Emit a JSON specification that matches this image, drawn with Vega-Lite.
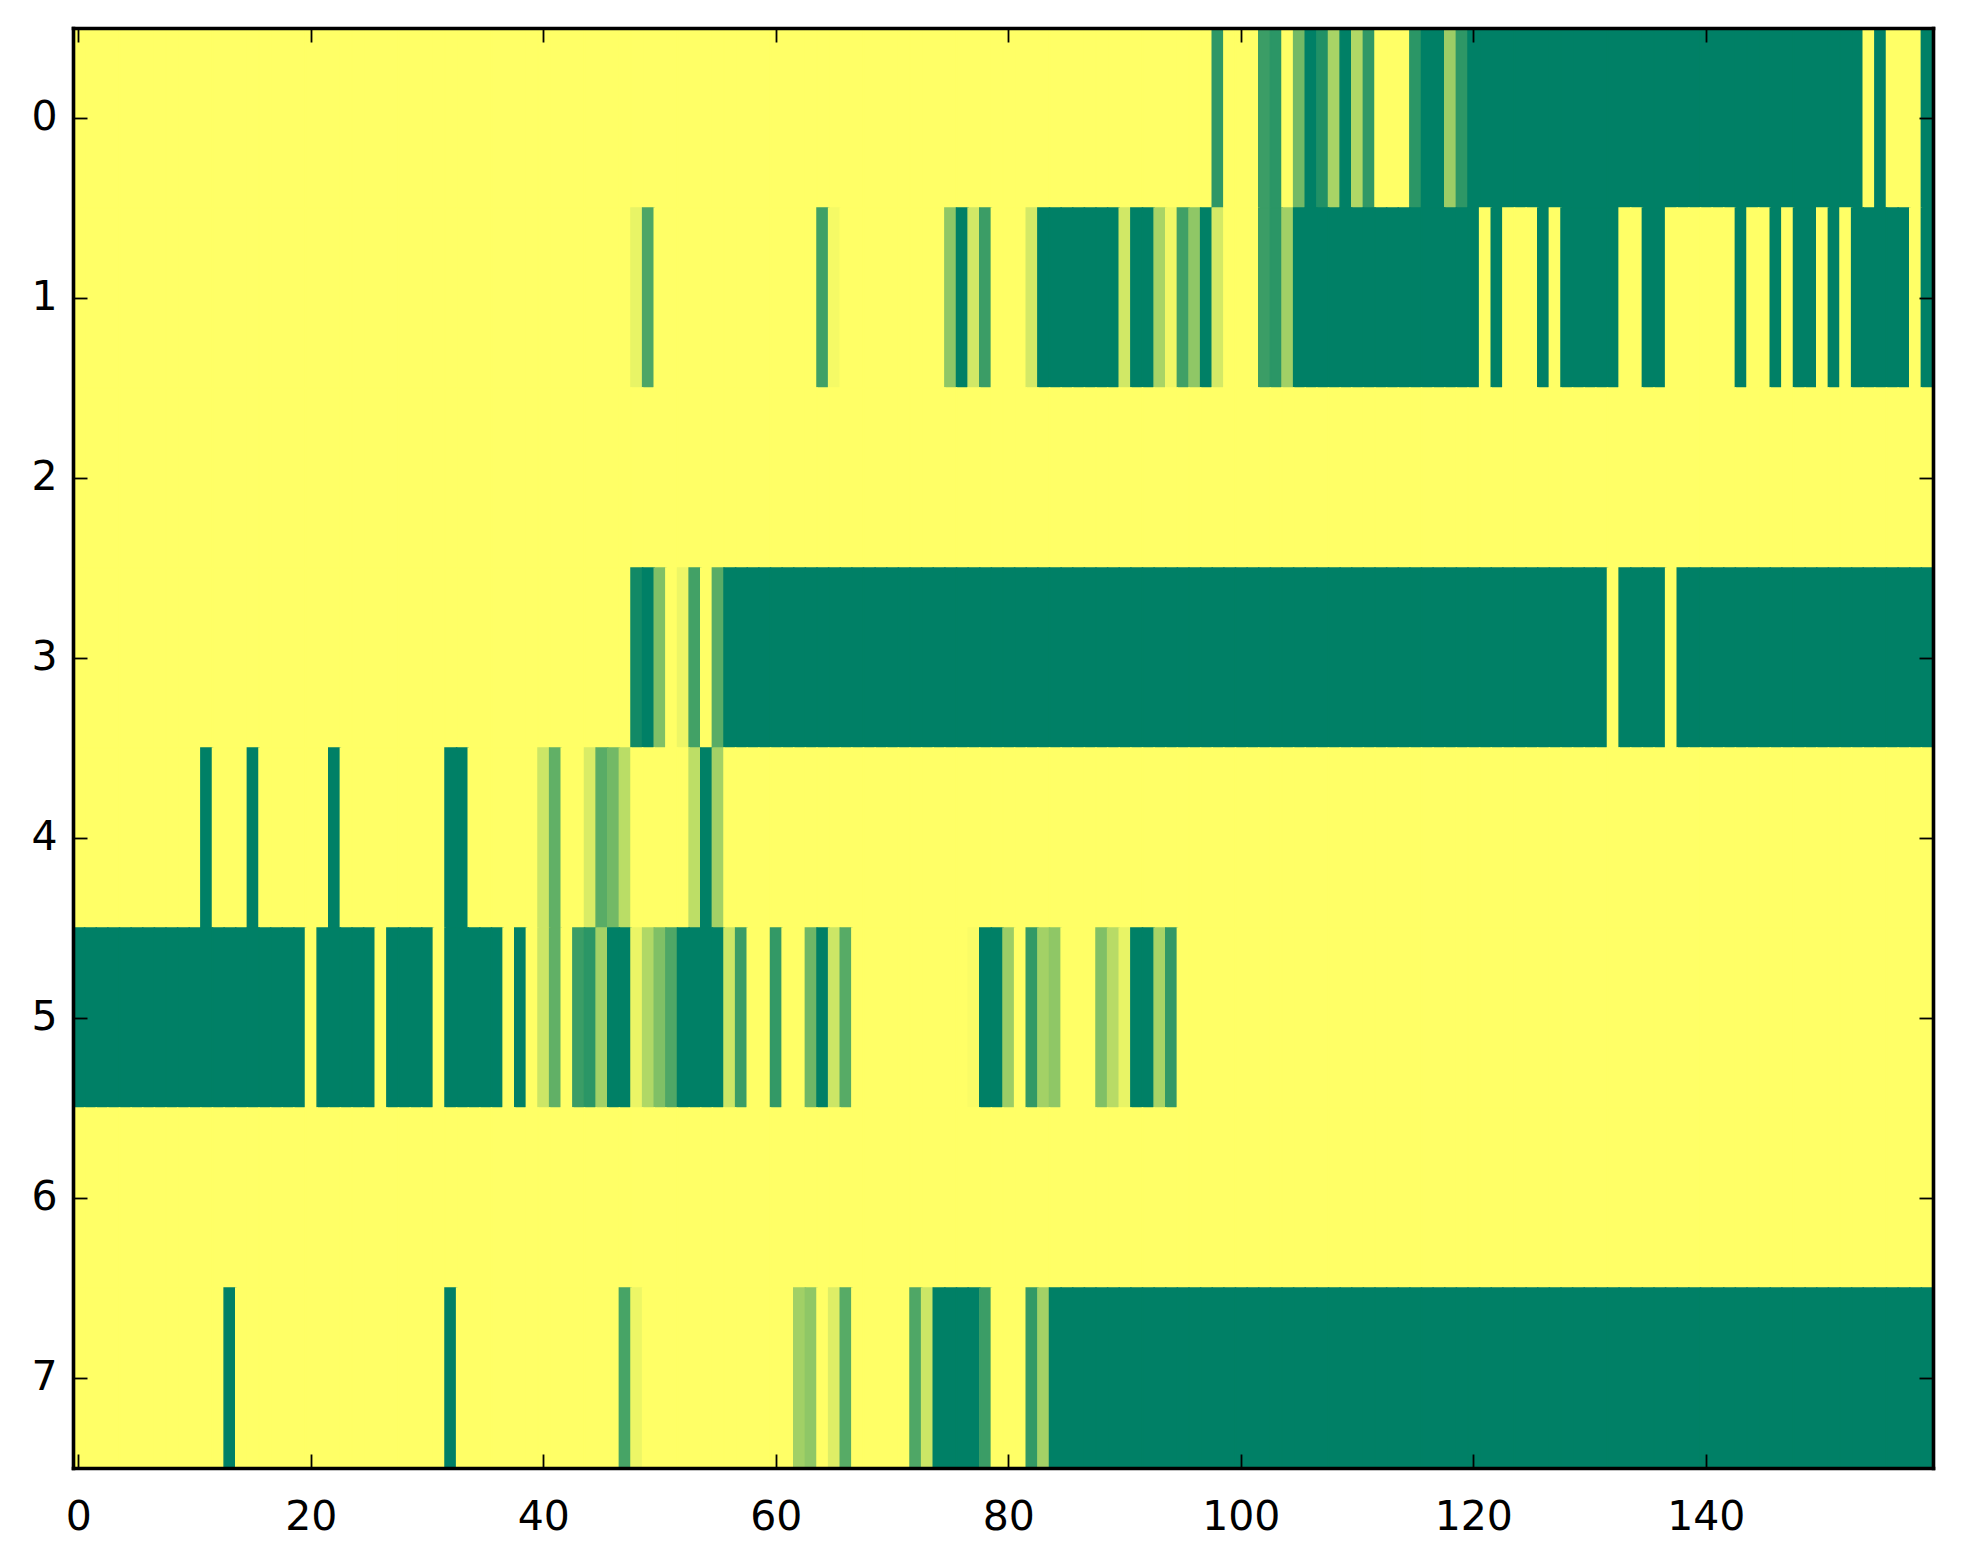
{
  "$schema": "https://vega.github.io/schema/vega-lite/v6.json",
  "width": 1860,
  "height": 1440,
  "autosize": {"type": "none"},
  "padding": {"left": 73, "top": 28, "right": 30, "bottom": 96},
  "background": "white",
  "data": {
    "values": [
{"r":0,"c":0,"v":0},{"r":0,"c":1,"v":0},{"r":0,"c":2,"v":0},{"r":0,"c":3,"v":0},{"r":0,"c":4,"v":0},{"r":0,"c":5,"v":0},{"r":0,"c":6,"v":0},{"r":0,"c":7,"v":0},{"r":0,"c":8,"v":0},{"r":0,"c":9,"v":0},
{"r":0,"c":10,"v":0},{"r":0,"c":11,"v":0},{"r":0,"c":12,"v":0},{"r":0,"c":13,"v":0},{"r":0,"c":14,"v":0},{"r":0,"c":15,"v":0},{"r":0,"c":16,"v":0},{"r":0,"c":17,"v":0},{"r":0,"c":18,"v":0},{"r":0,"c":19,"v":0},
{"r":0,"c":20,"v":0},{"r":0,"c":21,"v":0},{"r":0,"c":22,"v":0},{"r":0,"c":23,"v":0},{"r":0,"c":24,"v":0},{"r":0,"c":25,"v":0},{"r":0,"c":26,"v":0},{"r":0,"c":27,"v":0},{"r":0,"c":28,"v":0},{"r":0,"c":29,"v":0},
{"r":0,"c":30,"v":0},{"r":0,"c":31,"v":0},{"r":0,"c":32,"v":0},{"r":0,"c":33,"v":0},{"r":0,"c":34,"v":0},{"r":0,"c":35,"v":0},{"r":0,"c":36,"v":0},{"r":0,"c":37,"v":0},{"r":0,"c":38,"v":0},{"r":0,"c":39,"v":0},
{"r":0,"c":40,"v":0},{"r":0,"c":41,"v":0},{"r":0,"c":42,"v":0},{"r":0,"c":43,"v":0},{"r":0,"c":44,"v":0},{"r":0,"c":45,"v":0},{"r":0,"c":46,"v":0},{"r":0,"c":47,"v":0},{"r":0,"c":48,"v":0},{"r":0,"c":49,"v":0},
{"r":0,"c":50,"v":0},{"r":0,"c":51,"v":0},{"r":0,"c":52,"v":0},{"r":0,"c":53,"v":0},{"r":0,"c":54,"v":0},{"r":0,"c":55,"v":0},{"r":0,"c":56,"v":0},{"r":0,"c":57,"v":0},{"r":0,"c":58,"v":0},{"r":0,"c":59,"v":0},
{"r":0,"c":60,"v":0},{"r":0,"c":61,"v":0},{"r":0,"c":62,"v":0},{"r":0,"c":63,"v":0},{"r":0,"c":64,"v":0},{"r":0,"c":65,"v":0},{"r":0,"c":66,"v":0},{"r":0,"c":67,"v":0},{"r":0,"c":68,"v":0},{"r":0,"c":69,"v":0},
{"r":0,"c":70,"v":0},{"r":0,"c":71,"v":0},{"r":0,"c":72,"v":0},{"r":0,"c":73,"v":0},{"r":0,"c":74,"v":0},{"r":0,"c":75,"v":0},{"r":0,"c":76,"v":0},{"r":0,"c":77,"v":0},{"r":0,"c":78,"v":0},{"r":0,"c":79,"v":0},
{"r":0,"c":80,"v":0},{"r":0,"c":81,"v":0},{"r":0,"c":82,"v":0},{"r":0,"c":83,"v":0},{"r":0,"c":84,"v":0},{"r":0,"c":85,"v":0},{"r":0,"c":86,"v":0},{"r":0,"c":87,"v":0},{"r":0,"c":88,"v":0},{"r":0,"c":89,"v":0},
{"r":0,"c":90,"v":0},{"r":0,"c":91,"v":0},{"r":0,"c":92,"v":0},{"r":0,"c":93,"v":0},{"r":0,"c":94,"v":0},{"r":0,"c":95,"v":0},{"r":0,"c":96,"v":0},{"r":0,"c":97,"v":0},{"r":0,"c":98,"v":0.82},{"r":0,"c":99,"v":0},
{"r":0,"c":100,"v":0},{"r":0,"c":101,"v":0},{"r":0,"c":102,"v":0.77},{"r":0,"c":103,"v":0.83},{"r":0,"c":104,"v":0},{"r":0,"c":105,"v":0.55},{"r":0,"c":106,"v":1},{"r":0,"c":107,"v":0.87},{"r":0,"c":108,"v":0.34},{"r":0,"c":109,"v":1},
{"r":0,"c":110,"v":0.31},{"r":0,"c":111,"v":0.81},{"r":0,"c":112,"v":0},{"r":0,"c":113,"v":0},{"r":0,"c":114,"v":0},{"r":0,"c":115,"v":0.83},{"r":0,"c":116,"v":1},{"r":0,"c":117,"v":1},{"r":0,"c":118,"v":0.39},{"r":0,"c":119,"v":0.82},
{"r":0,"c":120,"v":1},{"r":0,"c":121,"v":1},{"r":0,"c":122,"v":1},{"r":0,"c":123,"v":1},{"r":0,"c":124,"v":1},{"r":0,"c":125,"v":1},{"r":0,"c":126,"v":1},{"r":0,"c":127,"v":1},{"r":0,"c":128,"v":1},{"r":0,"c":129,"v":1},
{"r":0,"c":130,"v":1},{"r":0,"c":131,"v":1},{"r":0,"c":132,"v":1},{"r":0,"c":133,"v":1},{"r":0,"c":134,"v":1},{"r":0,"c":135,"v":1},{"r":0,"c":136,"v":1},{"r":0,"c":137,"v":1},{"r":0,"c":138,"v":1},{"r":0,"c":139,"v":1},
{"r":0,"c":140,"v":1},{"r":0,"c":141,"v":1},{"r":0,"c":142,"v":1},{"r":0,"c":143,"v":1},{"r":0,"c":144,"v":1},{"r":0,"c":145,"v":1},{"r":0,"c":146,"v":1},{"r":0,"c":147,"v":1},{"r":0,"c":148,"v":1},{"r":0,"c":149,"v":1},
{"r":0,"c":150,"v":1},{"r":0,"c":151,"v":1},{"r":0,"c":152,"v":1},{"r":0,"c":153,"v":1},{"r":0,"c":154,"v":0},{"r":0,"c":155,"v":1},{"r":0,"c":156,"v":0},{"r":0,"c":157,"v":0},{"r":0,"c":158,"v":0},{"r":0,"c":159,"v":1},
{"r":1,"c":0,"v":0},{"r":1,"c":1,"v":0},{"r":1,"c":2,"v":0},{"r":1,"c":3,"v":0},{"r":1,"c":4,"v":0},{"r":1,"c":5,"v":0},{"r":1,"c":6,"v":0},{"r":1,"c":7,"v":0},{"r":1,"c":8,"v":0},{"r":1,"c":9,"v":0},
{"r":1,"c":10,"v":0},{"r":1,"c":11,"v":0},{"r":1,"c":12,"v":0},{"r":1,"c":13,"v":0},{"r":1,"c":14,"v":0},{"r":1,"c":15,"v":0},{"r":1,"c":16,"v":0},{"r":1,"c":17,"v":0},{"r":1,"c":18,"v":0},{"r":1,"c":19,"v":0},
{"r":1,"c":20,"v":0},{"r":1,"c":21,"v":0},{"r":1,"c":22,"v":0},{"r":1,"c":23,"v":0},{"r":1,"c":24,"v":0},{"r":1,"c":25,"v":0},{"r":1,"c":26,"v":0},{"r":1,"c":27,"v":0},{"r":1,"c":28,"v":0},{"r":1,"c":29,"v":0},
{"r":1,"c":30,"v":0},{"r":1,"c":31,"v":0},{"r":1,"c":32,"v":0},{"r":1,"c":33,"v":0},{"r":1,"c":34,"v":0},{"r":1,"c":35,"v":0},{"r":1,"c":36,"v":0},{"r":1,"c":37,"v":0},{"r":1,"c":38,"v":0},{"r":1,"c":39,"v":0},
{"r":1,"c":40,"v":0},{"r":1,"c":41,"v":0},{"r":1,"c":42,"v":0},{"r":1,"c":43,"v":0},{"r":1,"c":44,"v":0},{"r":1,"c":45,"v":0},{"r":1,"c":46,"v":0},{"r":1,"c":47,"v":0},{"r":1,"c":48,"v":0.09},{"r":1,"c":49,"v":0.7},
{"r":1,"c":50,"v":0},{"r":1,"c":51,"v":0},{"r":1,"c":52,"v":0},{"r":1,"c":53,"v":0},{"r":1,"c":54,"v":0},{"r":1,"c":55,"v":0},{"r":1,"c":56,"v":0},{"r":1,"c":57,"v":0},{"r":1,"c":58,"v":0},{"r":1,"c":59,"v":0},
{"r":1,"c":60,"v":0},{"r":1,"c":61,"v":0},{"r":1,"c":62,"v":0},{"r":1,"c":63,"v":0},{"r":1,"c":64,"v":0.75},{"r":1,"c":65,"v":0.04},{"r":1,"c":66,"v":0},{"r":1,"c":67,"v":0},{"r":1,"c":68,"v":0},{"r":1,"c":69,"v":0},
{"r":1,"c":70,"v":0},{"r":1,"c":71,"v":0},{"r":1,"c":72,"v":0},{"r":1,"c":73,"v":0},{"r":1,"c":74,"v":0},{"r":1,"c":75,"v":0.44},{"r":1,"c":76,"v":1},{"r":1,"c":77,"v":0.18},{"r":1,"c":78,"v":0.77},{"r":1,"c":79,"v":0},
{"r":1,"c":80,"v":0},{"r":1,"c":81,"v":0},{"r":1,"c":82,"v":0.17},{"r":1,"c":83,"v":1},{"r":1,"c":84,"v":1},{"r":1,"c":85,"v":1},{"r":1,"c":86,"v":1},{"r":1,"c":87,"v":1},{"r":1,"c":88,"v":1},{"r":1,"c":89,"v":1},
{"r":1,"c":90,"v":0.18},{"r":1,"c":91,"v":1},{"r":1,"c":92,"v":1},{"r":1,"c":93,"v":0.34},{"r":1,"c":94,"v":0.06},{"r":1,"c":95,"v":0.75},{"r":1,"c":96,"v":0.44},{"r":1,"c":97,"v":1},{"r":1,"c":98,"v":0.17},{"r":1,"c":99,"v":0},
{"r":1,"c":100,"v":0},{"r":1,"c":101,"v":0},{"r":1,"c":102,"v":0.77},{"r":1,"c":103,"v":0.83},{"r":1,"c":104,"v":0.37},{"r":1,"c":105,"v":1},{"r":1,"c":106,"v":1},{"r":1,"c":107,"v":1},{"r":1,"c":108,"v":1},{"r":1,"c":109,"v":1},
{"r":1,"c":110,"v":1},{"r":1,"c":111,"v":1},{"r":1,"c":112,"v":1},{"r":1,"c":113,"v":1},{"r":1,"c":114,"v":1},{"r":1,"c":115,"v":1},{"r":1,"c":116,"v":1},{"r":1,"c":117,"v":1},{"r":1,"c":118,"v":1},{"r":1,"c":119,"v":1},
{"r":1,"c":120,"v":1},{"r":1,"c":121,"v":0},{"r":1,"c":122,"v":1},{"r":1,"c":123,"v":0},{"r":1,"c":124,"v":0},{"r":1,"c":125,"v":0},{"r":1,"c":126,"v":1},{"r":1,"c":127,"v":0},{"r":1,"c":128,"v":1},{"r":1,"c":129,"v":1},
{"r":1,"c":130,"v":1},{"r":1,"c":131,"v":1},{"r":1,"c":132,"v":1},{"r":1,"c":133,"v":0},{"r":1,"c":134,"v":0},{"r":1,"c":135,"v":1},{"r":1,"c":136,"v":1},{"r":1,"c":137,"v":0},{"r":1,"c":138,"v":0},{"r":1,"c":139,"v":0},
{"r":1,"c":140,"v":0},{"r":1,"c":141,"v":0},{"r":1,"c":142,"v":0},{"r":1,"c":143,"v":1},{"r":1,"c":144,"v":0},{"r":1,"c":145,"v":0},{"r":1,"c":146,"v":1},{"r":1,"c":147,"v":0},{"r":1,"c":148,"v":1},{"r":1,"c":149,"v":1},
{"r":1,"c":150,"v":0},{"r":1,"c":151,"v":1},{"r":1,"c":152,"v":0},{"r":1,"c":153,"v":1},{"r":1,"c":154,"v":1},{"r":1,"c":155,"v":1},{"r":1,"c":156,"v":1},{"r":1,"c":157,"v":1},{"r":1,"c":158,"v":0},{"r":1,"c":159,"v":1},
{"r":2,"c":0,"v":0},{"r":2,"c":1,"v":0},{"r":2,"c":2,"v":0},{"r":2,"c":3,"v":0},{"r":2,"c":4,"v":0},{"r":2,"c":5,"v":0},{"r":2,"c":6,"v":0},{"r":2,"c":7,"v":0},{"r":2,"c":8,"v":0},{"r":2,"c":9,"v":0},
{"r":2,"c":10,"v":0},{"r":2,"c":11,"v":0},{"r":2,"c":12,"v":0},{"r":2,"c":13,"v":0},{"r":2,"c":14,"v":0},{"r":2,"c":15,"v":0},{"r":2,"c":16,"v":0},{"r":2,"c":17,"v":0},{"r":2,"c":18,"v":0},{"r":2,"c":19,"v":0},
{"r":2,"c":20,"v":0},{"r":2,"c":21,"v":0},{"r":2,"c":22,"v":0},{"r":2,"c":23,"v":0},{"r":2,"c":24,"v":0},{"r":2,"c":25,"v":0},{"r":2,"c":26,"v":0},{"r":2,"c":27,"v":0},{"r":2,"c":28,"v":0},{"r":2,"c":29,"v":0},
{"r":2,"c":30,"v":0},{"r":2,"c":31,"v":0},{"r":2,"c":32,"v":0},{"r":2,"c":33,"v":0},{"r":2,"c":34,"v":0},{"r":2,"c":35,"v":0},{"r":2,"c":36,"v":0},{"r":2,"c":37,"v":0},{"r":2,"c":38,"v":0},{"r":2,"c":39,"v":0},
{"r":2,"c":40,"v":0},{"r":2,"c":41,"v":0},{"r":2,"c":42,"v":0},{"r":2,"c":43,"v":0},{"r":2,"c":44,"v":0},{"r":2,"c":45,"v":0},{"r":2,"c":46,"v":0},{"r":2,"c":47,"v":0},{"r":2,"c":48,"v":0},{"r":2,"c":49,"v":0},
{"r":2,"c":50,"v":0},{"r":2,"c":51,"v":0},{"r":2,"c":52,"v":0},{"r":2,"c":53,"v":0},{"r":2,"c":54,"v":0},{"r":2,"c":55,"v":0},{"r":2,"c":56,"v":0},{"r":2,"c":57,"v":0},{"r":2,"c":58,"v":0},{"r":2,"c":59,"v":0},
{"r":2,"c":60,"v":0},{"r":2,"c":61,"v":0},{"r":2,"c":62,"v":0},{"r":2,"c":63,"v":0},{"r":2,"c":64,"v":0},{"r":2,"c":65,"v":0},{"r":2,"c":66,"v":0},{"r":2,"c":67,"v":0},{"r":2,"c":68,"v":0},{"r":2,"c":69,"v":0},
{"r":2,"c":70,"v":0},{"r":2,"c":71,"v":0},{"r":2,"c":72,"v":0},{"r":2,"c":73,"v":0},{"r":2,"c":74,"v":0},{"r":2,"c":75,"v":0},{"r":2,"c":76,"v":0},{"r":2,"c":77,"v":0},{"r":2,"c":78,"v":0},{"r":2,"c":79,"v":0},
{"r":2,"c":80,"v":0},{"r":2,"c":81,"v":0},{"r":2,"c":82,"v":0},{"r":2,"c":83,"v":0},{"r":2,"c":84,"v":0},{"r":2,"c":85,"v":0},{"r":2,"c":86,"v":0},{"r":2,"c":87,"v":0},{"r":2,"c":88,"v":0},{"r":2,"c":89,"v":0},
{"r":2,"c":90,"v":0},{"r":2,"c":91,"v":0},{"r":2,"c":92,"v":0},{"r":2,"c":93,"v":0},{"r":2,"c":94,"v":0},{"r":2,"c":95,"v":0},{"r":2,"c":96,"v":0},{"r":2,"c":97,"v":0},{"r":2,"c":98,"v":0},{"r":2,"c":99,"v":0},
{"r":2,"c":100,"v":0},{"r":2,"c":101,"v":0},{"r":2,"c":102,"v":0},{"r":2,"c":103,"v":0},{"r":2,"c":104,"v":0},{"r":2,"c":105,"v":0},{"r":2,"c":106,"v":0},{"r":2,"c":107,"v":0},{"r":2,"c":108,"v":0},{"r":2,"c":109,"v":0},
{"r":2,"c":110,"v":0},{"r":2,"c":111,"v":0},{"r":2,"c":112,"v":0},{"r":2,"c":113,"v":0},{"r":2,"c":114,"v":0},{"r":2,"c":115,"v":0},{"r":2,"c":116,"v":0},{"r":2,"c":117,"v":0},{"r":2,"c":118,"v":0},{"r":2,"c":119,"v":0},
{"r":2,"c":120,"v":0},{"r":2,"c":121,"v":0},{"r":2,"c":122,"v":0},{"r":2,"c":123,"v":0},{"r":2,"c":124,"v":0},{"r":2,"c":125,"v":0},{"r":2,"c":126,"v":0},{"r":2,"c":127,"v":0},{"r":2,"c":128,"v":0},{"r":2,"c":129,"v":0},
{"r":2,"c":130,"v":0},{"r":2,"c":131,"v":0},{"r":2,"c":132,"v":0},{"r":2,"c":133,"v":0},{"r":2,"c":134,"v":0},{"r":2,"c":135,"v":0},{"r":2,"c":136,"v":0},{"r":2,"c":137,"v":0},{"r":2,"c":138,"v":0},{"r":2,"c":139,"v":0},
{"r":2,"c":140,"v":0},{"r":2,"c":141,"v":0},{"r":2,"c":142,"v":0},{"r":2,"c":143,"v":0},{"r":2,"c":144,"v":0},{"r":2,"c":145,"v":0},{"r":2,"c":146,"v":0},{"r":2,"c":147,"v":0},{"r":2,"c":148,"v":0},{"r":2,"c":149,"v":0},
{"r":2,"c":150,"v":0},{"r":2,"c":151,"v":0},{"r":2,"c":152,"v":0},{"r":2,"c":153,"v":0},{"r":2,"c":154,"v":0},{"r":2,"c":155,"v":0},{"r":2,"c":156,"v":0},{"r":2,"c":157,"v":0},{"r":2,"c":158,"v":0},{"r":2,"c":159,"v":0},
{"r":3,"c":0,"v":0},{"r":3,"c":1,"v":0},{"r":3,"c":2,"v":0},{"r":3,"c":3,"v":0},{"r":3,"c":4,"v":0},{"r":3,"c":5,"v":0},{"r":3,"c":6,"v":0},{"r":3,"c":7,"v":0},{"r":3,"c":8,"v":0},{"r":3,"c":9,"v":0},
{"r":3,"c":10,"v":0},{"r":3,"c":11,"v":0},{"r":3,"c":12,"v":0},{"r":3,"c":13,"v":0},{"r":3,"c":14,"v":0},{"r":3,"c":15,"v":0},{"r":3,"c":16,"v":0},{"r":3,"c":17,"v":0},{"r":3,"c":18,"v":0},{"r":3,"c":19,"v":0},
{"r":3,"c":20,"v":0},{"r":3,"c":21,"v":0},{"r":3,"c":22,"v":0},{"r":3,"c":23,"v":0},{"r":3,"c":24,"v":0},{"r":3,"c":25,"v":0},{"r":3,"c":26,"v":0},{"r":3,"c":27,"v":0},{"r":3,"c":28,"v":0},{"r":3,"c":29,"v":0},
{"r":3,"c":30,"v":0},{"r":3,"c":31,"v":0},{"r":3,"c":32,"v":0},{"r":3,"c":33,"v":0},{"r":3,"c":34,"v":0},{"r":3,"c":35,"v":0},{"r":3,"c":36,"v":0},{"r":3,"c":37,"v":0},{"r":3,"c":38,"v":0},{"r":3,"c":39,"v":0},
{"r":3,"c":40,"v":0},{"r":3,"c":41,"v":0},{"r":3,"c":42,"v":0},{"r":3,"c":43,"v":0},{"r":3,"c":44,"v":0},{"r":3,"c":45,"v":0},{"r":3,"c":46,"v":0},{"r":3,"c":47,"v":0},{"r":3,"c":48,"v":0.93},{"r":3,"c":49,"v":1},
{"r":3,"c":50,"v":0.5},{"r":3,"c":51,"v":0},{"r":3,"c":52,"v":0.07},{"r":3,"c":53,"v":0.74},{"r":3,"c":54,"v":0},{"r":3,"c":55,"v":0.65},{"r":3,"c":56,"v":1},{"r":3,"c":57,"v":1},{"r":3,"c":58,"v":1},{"r":3,"c":59,"v":1},
{"r":3,"c":60,"v":1},{"r":3,"c":61,"v":1},{"r":3,"c":62,"v":1},{"r":3,"c":63,"v":1},{"r":3,"c":64,"v":1},{"r":3,"c":65,"v":1},{"r":3,"c":66,"v":1},{"r":3,"c":67,"v":1},{"r":3,"c":68,"v":1},{"r":3,"c":69,"v":1},
{"r":3,"c":70,"v":1},{"r":3,"c":71,"v":1},{"r":3,"c":72,"v":1},{"r":3,"c":73,"v":1},{"r":3,"c":74,"v":1},{"r":3,"c":75,"v":1},{"r":3,"c":76,"v":1},{"r":3,"c":77,"v":1},{"r":3,"c":78,"v":1},{"r":3,"c":79,"v":1},
{"r":3,"c":80,"v":1},{"r":3,"c":81,"v":1},{"r":3,"c":82,"v":1},{"r":3,"c":83,"v":1},{"r":3,"c":84,"v":1},{"r":3,"c":85,"v":1},{"r":3,"c":86,"v":1},{"r":3,"c":87,"v":1},{"r":3,"c":88,"v":1},{"r":3,"c":89,"v":1},
{"r":3,"c":90,"v":1},{"r":3,"c":91,"v":1},{"r":3,"c":92,"v":1},{"r":3,"c":93,"v":1},{"r":3,"c":94,"v":1},{"r":3,"c":95,"v":1},{"r":3,"c":96,"v":1},{"r":3,"c":97,"v":1},{"r":3,"c":98,"v":1},{"r":3,"c":99,"v":1},
{"r":3,"c":100,"v":1},{"r":3,"c":101,"v":1},{"r":3,"c":102,"v":1},{"r":3,"c":103,"v":1},{"r":3,"c":104,"v":1},{"r":3,"c":105,"v":1},{"r":3,"c":106,"v":1},{"r":3,"c":107,"v":1},{"r":3,"c":108,"v":1},{"r":3,"c":109,"v":1},
{"r":3,"c":110,"v":1},{"r":3,"c":111,"v":1},{"r":3,"c":112,"v":1},{"r":3,"c":113,"v":1},{"r":3,"c":114,"v":1},{"r":3,"c":115,"v":1},{"r":3,"c":116,"v":1},{"r":3,"c":117,"v":1},{"r":3,"c":118,"v":1},{"r":3,"c":119,"v":1},
{"r":3,"c":120,"v":1},{"r":3,"c":121,"v":1},{"r":3,"c":122,"v":1},{"r":3,"c":123,"v":1},{"r":3,"c":124,"v":1},{"r":3,"c":125,"v":1},{"r":3,"c":126,"v":1},{"r":3,"c":127,"v":1},{"r":3,"c":128,"v":1},{"r":3,"c":129,"v":1},
{"r":3,"c":130,"v":1},{"r":3,"c":131,"v":1},{"r":3,"c":132,"v":0},{"r":3,"c":133,"v":1},{"r":3,"c":134,"v":1},{"r":3,"c":135,"v":1},{"r":3,"c":136,"v":1},{"r":3,"c":137,"v":0},{"r":3,"c":138,"v":1},{"r":3,"c":139,"v":1},
{"r":3,"c":140,"v":1},{"r":3,"c":141,"v":1},{"r":3,"c":142,"v":1},{"r":3,"c":143,"v":1},{"r":3,"c":144,"v":1},{"r":3,"c":145,"v":1},{"r":3,"c":146,"v":1},{"r":3,"c":147,"v":1},{"r":3,"c":148,"v":1},{"r":3,"c":149,"v":1},
{"r":3,"c":150,"v":1},{"r":3,"c":151,"v":1},{"r":3,"c":152,"v":1},{"r":3,"c":153,"v":1},{"r":3,"c":154,"v":1},{"r":3,"c":155,"v":1},{"r":3,"c":156,"v":1},{"r":3,"c":157,"v":1},{"r":3,"c":158,"v":1},{"r":3,"c":159,"v":1},
{"r":4,"c":0,"v":0},{"r":4,"c":1,"v":0},{"r":4,"c":2,"v":0},{"r":4,"c":3,"v":0},{"r":4,"c":4,"v":0},{"r":4,"c":5,"v":0},{"r":4,"c":6,"v":0},{"r":4,"c":7,"v":0},{"r":4,"c":8,"v":0},{"r":4,"c":9,"v":0},
{"r":4,"c":10,"v":0},{"r":4,"c":11,"v":1},{"r":4,"c":12,"v":0},{"r":4,"c":13,"v":0},{"r":4,"c":14,"v":0},{"r":4,"c":15,"v":1},{"r":4,"c":16,"v":0},{"r":4,"c":17,"v":0},{"r":4,"c":18,"v":0},{"r":4,"c":19,"v":0},
{"r":4,"c":20,"v":0},{"r":4,"c":21,"v":0},{"r":4,"c":22,"v":1},{"r":4,"c":23,"v":0},{"r":4,"c":24,"v":0},{"r":4,"c":25,"v":0},{"r":4,"c":26,"v":0},{"r":4,"c":27,"v":0},{"r":4,"c":28,"v":0},{"r":4,"c":29,"v":0},
{"r":4,"c":30,"v":0},{"r":4,"c":31,"v":0},{"r":4,"c":32,"v":1},{"r":4,"c":33,"v":1},{"r":4,"c":34,"v":0},{"r":4,"c":35,"v":0},{"r":4,"c":36,"v":0},{"r":4,"c":37,"v":0},{"r":4,"c":38,"v":0},{"r":4,"c":39,"v":0},
{"r":4,"c":40,"v":0.2},{"r":4,"c":41,"v":0.62},{"r":4,"c":42,"v":0},{"r":4,"c":43,"v":0},{"r":4,"c":44,"v":0.15},{"r":4,"c":45,"v":0.65},{"r":4,"c":46,"v":0.55},{"r":4,"c":47,"v":0.27},{"r":4,"c":48,"v":0},{"r":4,"c":49,"v":0},
{"r":4,"c":50,"v":0},{"r":4,"c":51,"v":0},{"r":4,"c":52,"v":0},{"r":4,"c":53,"v":0.26},{"r":4,"c":54,"v":1},{"r":4,"c":55,"v":0.36},{"r":4,"c":56,"v":0},{"r":4,"c":57,"v":0},{"r":4,"c":58,"v":0},{"r":4,"c":59,"v":0},
{"r":4,"c":60,"v":0},{"r":4,"c":61,"v":0},{"r":4,"c":62,"v":0},{"r":4,"c":63,"v":0},{"r":4,"c":64,"v":0},{"r":4,"c":65,"v":0},{"r":4,"c":66,"v":0},{"r":4,"c":67,"v":0},{"r":4,"c":68,"v":0},{"r":4,"c":69,"v":0},
{"r":4,"c":70,"v":0},{"r":4,"c":71,"v":0},{"r":4,"c":72,"v":0},{"r":4,"c":73,"v":0},{"r":4,"c":74,"v":0},{"r":4,"c":75,"v":0},{"r":4,"c":76,"v":0},{"r":4,"c":77,"v":0},{"r":4,"c":78,"v":0},{"r":4,"c":79,"v":0},
{"r":4,"c":80,"v":0},{"r":4,"c":81,"v":0},{"r":4,"c":82,"v":0},{"r":4,"c":83,"v":0},{"r":4,"c":84,"v":0},{"r":4,"c":85,"v":0},{"r":4,"c":86,"v":0},{"r":4,"c":87,"v":0},{"r":4,"c":88,"v":0},{"r":4,"c":89,"v":0},
{"r":4,"c":90,"v":0},{"r":4,"c":91,"v":0},{"r":4,"c":92,"v":0},{"r":4,"c":93,"v":0},{"r":4,"c":94,"v":0},{"r":4,"c":95,"v":0},{"r":4,"c":96,"v":0},{"r":4,"c":97,"v":0},{"r":4,"c":98,"v":0},{"r":4,"c":99,"v":0},
{"r":4,"c":100,"v":0},{"r":4,"c":101,"v":0},{"r":4,"c":102,"v":0},{"r":4,"c":103,"v":0},{"r":4,"c":104,"v":0},{"r":4,"c":105,"v":0},{"r":4,"c":106,"v":0},{"r":4,"c":107,"v":0},{"r":4,"c":108,"v":0},{"r":4,"c":109,"v":0},
{"r":4,"c":110,"v":0},{"r":4,"c":111,"v":0},{"r":4,"c":112,"v":0},{"r":4,"c":113,"v":0},{"r":4,"c":114,"v":0},{"r":4,"c":115,"v":0},{"r":4,"c":116,"v":0},{"r":4,"c":117,"v":0},{"r":4,"c":118,"v":0},{"r":4,"c":119,"v":0},
{"r":4,"c":120,"v":0},{"r":4,"c":121,"v":0},{"r":4,"c":122,"v":0},{"r":4,"c":123,"v":0},{"r":4,"c":124,"v":0},{"r":4,"c":125,"v":0},{"r":4,"c":126,"v":0},{"r":4,"c":127,"v":0},{"r":4,"c":128,"v":0},{"r":4,"c":129,"v":0},
{"r":4,"c":130,"v":0},{"r":4,"c":131,"v":0},{"r":4,"c":132,"v":0},{"r":4,"c":133,"v":0},{"r":4,"c":134,"v":0},{"r":4,"c":135,"v":0},{"r":4,"c":136,"v":0},{"r":4,"c":137,"v":0},{"r":4,"c":138,"v":0},{"r":4,"c":139,"v":0},
{"r":4,"c":140,"v":0},{"r":4,"c":141,"v":0},{"r":4,"c":142,"v":0},{"r":4,"c":143,"v":0},{"r":4,"c":144,"v":0},{"r":4,"c":145,"v":0},{"r":4,"c":146,"v":0},{"r":4,"c":147,"v":0},{"r":4,"c":148,"v":0},{"r":4,"c":149,"v":0},
{"r":4,"c":150,"v":0},{"r":4,"c":151,"v":0},{"r":4,"c":152,"v":0},{"r":4,"c":153,"v":0},{"r":4,"c":154,"v":0},{"r":4,"c":155,"v":0},{"r":4,"c":156,"v":0},{"r":4,"c":157,"v":0},{"r":4,"c":158,"v":0},{"r":4,"c":159,"v":0},
{"r":5,"c":0,"v":1},{"r":5,"c":1,"v":1},{"r":5,"c":2,"v":1},{"r":5,"c":3,"v":1},{"r":5,"c":4,"v":1},{"r":5,"c":5,"v":1},{"r":5,"c":6,"v":1},{"r":5,"c":7,"v":1},{"r":5,"c":8,"v":1},{"r":5,"c":9,"v":1},
{"r":5,"c":10,"v":1},{"r":5,"c":11,"v":1},{"r":5,"c":12,"v":1},{"r":5,"c":13,"v":1},{"r":5,"c":14,"v":1},{"r":5,"c":15,"v":1},{"r":5,"c":16,"v":1},{"r":5,"c":17,"v":1},{"r":5,"c":18,"v":1},{"r":5,"c":19,"v":1},
{"r":5,"c":20,"v":0},{"r":5,"c":21,"v":1},{"r":5,"c":22,"v":1},{"r":5,"c":23,"v":1},{"r":5,"c":24,"v":1},{"r":5,"c":25,"v":1},{"r":5,"c":26,"v":0},{"r":5,"c":27,"v":1},{"r":5,"c":28,"v":1},{"r":5,"c":29,"v":1},
{"r":5,"c":30,"v":1},{"r":5,"c":31,"v":0},{"r":5,"c":32,"v":1},{"r":5,"c":33,"v":1},{"r":5,"c":34,"v":1},{"r":5,"c":35,"v":1},{"r":5,"c":36,"v":1},{"r":5,"c":37,"v":0},{"r":5,"c":38,"v":1},{"r":5,"c":39,"v":0},
{"r":5,"c":40,"v":0.2},{"r":5,"c":41,"v":0.62},{"r":5,"c":42,"v":0},{"r":5,"c":43,"v":0.77},{"r":5,"c":44,"v":0.83},{"r":5,"c":45,"v":0.36},{"r":5,"c":46,"v":1},{"r":5,"c":47,"v":1},{"r":5,"c":48,"v":0.08},{"r":5,"c":49,"v":0.31},
{"r":5,"c":50,"v":0.5},{"r":5,"c":51,"v":0.69},{"r":5,"c":52,"v":1},{"r":5,"c":53,"v":1},{"r":5,"c":54,"v":1},{"r":5,"c":55,"v":1},{"r":5,"c":56,"v":0.2},{"r":5,"c":57,"v":0.77},{"r":5,"c":58,"v":0},{"r":5,"c":59,"v":0},
{"r":5,"c":60,"v":0.8},{"r":5,"c":61,"v":0},{"r":5,"c":62,"v":0},{"r":5,"c":63,"v":0.57},{"r":5,"c":64,"v":1},{"r":5,"c":65,"v":0.2},{"r":5,"c":66,"v":0.66},{"r":5,"c":67,"v":0},{"r":5,"c":68,"v":0},{"r":5,"c":69,"v":0},
{"r":5,"c":70,"v":0},{"r":5,"c":71,"v":0},{"r":5,"c":72,"v":0},{"r":5,"c":73,"v":0},{"r":5,"c":74,"v":0},{"r":5,"c":75,"v":0},{"r":5,"c":76,"v":0},{"r":5,"c":77,"v":0.02},{"r":5,"c":78,"v":1},{"r":5,"c":79,"v":1},
{"r":5,"c":80,"v":0.39},{"r":5,"c":81,"v":0},{"r":5,"c":82,"v":0.8},{"r":5,"c":83,"v":0.36},{"r":5,"c":84,"v":0.44},{"r":5,"c":85,"v":0},{"r":5,"c":86,"v":0},{"r":5,"c":87,"v":0},{"r":5,"c":88,"v":0.5},{"r":5,"c":89,"v":0.28},
{"r":5,"c":90,"v":0.09},{"r":5,"c":91,"v":1},{"r":5,"c":92,"v":1},{"r":5,"c":93,"v":0.34},{"r":5,"c":94,"v":0.8},{"r":5,"c":95,"v":0},{"r":5,"c":96,"v":0},{"r":5,"c":97,"v":0},{"r":5,"c":98,"v":0},{"r":5,"c":99,"v":0},
{"r":5,"c":100,"v":0},{"r":5,"c":101,"v":0},{"r":5,"c":102,"v":0},{"r":5,"c":103,"v":0},{"r":5,"c":104,"v":0},{"r":5,"c":105,"v":0},{"r":5,"c":106,"v":0},{"r":5,"c":107,"v":0},{"r":5,"c":108,"v":0},{"r":5,"c":109,"v":0},
{"r":5,"c":110,"v":0},{"r":5,"c":111,"v":0},{"r":5,"c":112,"v":0},{"r":5,"c":113,"v":0},{"r":5,"c":114,"v":0},{"r":5,"c":115,"v":0},{"r":5,"c":116,"v":0},{"r":5,"c":117,"v":0},{"r":5,"c":118,"v":0},{"r":5,"c":119,"v":0},
{"r":5,"c":120,"v":0},{"r":5,"c":121,"v":0},{"r":5,"c":122,"v":0},{"r":5,"c":123,"v":0},{"r":5,"c":124,"v":0},{"r":5,"c":125,"v":0},{"r":5,"c":126,"v":0},{"r":5,"c":127,"v":0},{"r":5,"c":128,"v":0},{"r":5,"c":129,"v":0},
{"r":5,"c":130,"v":0},{"r":5,"c":131,"v":0},{"r":5,"c":132,"v":0},{"r":5,"c":133,"v":0},{"r":5,"c":134,"v":0},{"r":5,"c":135,"v":0},{"r":5,"c":136,"v":0},{"r":5,"c":137,"v":0},{"r":5,"c":138,"v":0},{"r":5,"c":139,"v":0},
{"r":5,"c":140,"v":0},{"r":5,"c":141,"v":0},{"r":5,"c":142,"v":0},{"r":5,"c":143,"v":0},{"r":5,"c":144,"v":0},{"r":5,"c":145,"v":0},{"r":5,"c":146,"v":0},{"r":5,"c":147,"v":0},{"r":5,"c":148,"v":0},{"r":5,"c":149,"v":0},
{"r":5,"c":150,"v":0},{"r":5,"c":151,"v":0},{"r":5,"c":152,"v":0},{"r":5,"c":153,"v":0},{"r":5,"c":154,"v":0},{"r":5,"c":155,"v":0},{"r":5,"c":156,"v":0},{"r":5,"c":157,"v":0},{"r":5,"c":158,"v":0},{"r":5,"c":159,"v":0},
{"r":6,"c":0,"v":0},{"r":6,"c":1,"v":0},{"r":6,"c":2,"v":0},{"r":6,"c":3,"v":0},{"r":6,"c":4,"v":0},{"r":6,"c":5,"v":0},{"r":6,"c":6,"v":0},{"r":6,"c":7,"v":0},{"r":6,"c":8,"v":0},{"r":6,"c":9,"v":0},
{"r":6,"c":10,"v":0},{"r":6,"c":11,"v":0},{"r":6,"c":12,"v":0},{"r":6,"c":13,"v":0},{"r":6,"c":14,"v":0},{"r":6,"c":15,"v":0},{"r":6,"c":16,"v":0},{"r":6,"c":17,"v":0},{"r":6,"c":18,"v":0},{"r":6,"c":19,"v":0},
{"r":6,"c":20,"v":0},{"r":6,"c":21,"v":0},{"r":6,"c":22,"v":0},{"r":6,"c":23,"v":0},{"r":6,"c":24,"v":0},{"r":6,"c":25,"v":0},{"r":6,"c":26,"v":0},{"r":6,"c":27,"v":0},{"r":6,"c":28,"v":0},{"r":6,"c":29,"v":0},
{"r":6,"c":30,"v":0},{"r":6,"c":31,"v":0},{"r":6,"c":32,"v":0},{"r":6,"c":33,"v":0},{"r":6,"c":34,"v":0},{"r":6,"c":35,"v":0},{"r":6,"c":36,"v":0},{"r":6,"c":37,"v":0},{"r":6,"c":38,"v":0},{"r":6,"c":39,"v":0},
{"r":6,"c":40,"v":0},{"r":6,"c":41,"v":0},{"r":6,"c":42,"v":0},{"r":6,"c":43,"v":0},{"r":6,"c":44,"v":0},{"r":6,"c":45,"v":0},{"r":6,"c":46,"v":0},{"r":6,"c":47,"v":0},{"r":6,"c":48,"v":0},{"r":6,"c":49,"v":0},
{"r":6,"c":50,"v":0},{"r":6,"c":51,"v":0},{"r":6,"c":52,"v":0},{"r":6,"c":53,"v":0},{"r":6,"c":54,"v":0},{"r":6,"c":55,"v":0},{"r":6,"c":56,"v":0},{"r":6,"c":57,"v":0},{"r":6,"c":58,"v":0},{"r":6,"c":59,"v":0},
{"r":6,"c":60,"v":0},{"r":6,"c":61,"v":0},{"r":6,"c":62,"v":0},{"r":6,"c":63,"v":0},{"r":6,"c":64,"v":0},{"r":6,"c":65,"v":0},{"r":6,"c":66,"v":0},{"r":6,"c":67,"v":0},{"r":6,"c":68,"v":0},{"r":6,"c":69,"v":0},
{"r":6,"c":70,"v":0},{"r":6,"c":71,"v":0},{"r":6,"c":72,"v":0},{"r":6,"c":73,"v":0},{"r":6,"c":74,"v":0},{"r":6,"c":75,"v":0},{"r":6,"c":76,"v":0},{"r":6,"c":77,"v":0},{"r":6,"c":78,"v":0},{"r":6,"c":79,"v":0},
{"r":6,"c":80,"v":0},{"r":6,"c":81,"v":0},{"r":6,"c":82,"v":0},{"r":6,"c":83,"v":0},{"r":6,"c":84,"v":0},{"r":6,"c":85,"v":0},{"r":6,"c":86,"v":0},{"r":6,"c":87,"v":0},{"r":6,"c":88,"v":0},{"r":6,"c":89,"v":0},
{"r":6,"c":90,"v":0},{"r":6,"c":91,"v":0},{"r":6,"c":92,"v":0},{"r":6,"c":93,"v":0},{"r":6,"c":94,"v":0},{"r":6,"c":95,"v":0},{"r":6,"c":96,"v":0},{"r":6,"c":97,"v":0},{"r":6,"c":98,"v":0},{"r":6,"c":99,"v":0},
{"r":6,"c":100,"v":0},{"r":6,"c":101,"v":0},{"r":6,"c":102,"v":0},{"r":6,"c":103,"v":0},{"r":6,"c":104,"v":0},{"r":6,"c":105,"v":0},{"r":6,"c":106,"v":0},{"r":6,"c":107,"v":0},{"r":6,"c":108,"v":0},{"r":6,"c":109,"v":0},
{"r":6,"c":110,"v":0},{"r":6,"c":111,"v":0},{"r":6,"c":112,"v":0},{"r":6,"c":113,"v":0},{"r":6,"c":114,"v":0},{"r":6,"c":115,"v":0},{"r":6,"c":116,"v":0},{"r":6,"c":117,"v":0},{"r":6,"c":118,"v":0},{"r":6,"c":119,"v":0},
{"r":6,"c":120,"v":0},{"r":6,"c":121,"v":0},{"r":6,"c":122,"v":0},{"r":6,"c":123,"v":0},{"r":6,"c":124,"v":0},{"r":6,"c":125,"v":0},{"r":6,"c":126,"v":0},{"r":6,"c":127,"v":0},{"r":6,"c":128,"v":0},{"r":6,"c":129,"v":0},
{"r":6,"c":130,"v":0},{"r":6,"c":131,"v":0},{"r":6,"c":132,"v":0},{"r":6,"c":133,"v":0},{"r":6,"c":134,"v":0},{"r":6,"c":135,"v":0},{"r":6,"c":136,"v":0},{"r":6,"c":137,"v":0},{"r":6,"c":138,"v":0},{"r":6,"c":139,"v":0},
{"r":6,"c":140,"v":0},{"r":6,"c":141,"v":0},{"r":6,"c":142,"v":0},{"r":6,"c":143,"v":0},{"r":6,"c":144,"v":0},{"r":6,"c":145,"v":0},{"r":6,"c":146,"v":0},{"r":6,"c":147,"v":0},{"r":6,"c":148,"v":0},{"r":6,"c":149,"v":0},
{"r":6,"c":150,"v":0},{"r":6,"c":151,"v":0},{"r":6,"c":152,"v":0},{"r":6,"c":153,"v":0},{"r":6,"c":154,"v":0},{"r":6,"c":155,"v":0},{"r":6,"c":156,"v":0},{"r":6,"c":157,"v":0},{"r":6,"c":158,"v":0},{"r":6,"c":159,"v":0},
{"r":7,"c":0,"v":0},{"r":7,"c":1,"v":0},{"r":7,"c":2,"v":0},{"r":7,"c":3,"v":0},{"r":7,"c":4,"v":0},{"r":7,"c":5,"v":0},{"r":7,"c":6,"v":0},{"r":7,"c":7,"v":0},{"r":7,"c":8,"v":0},{"r":7,"c":9,"v":0},
{"r":7,"c":10,"v":0},{"r":7,"c":11,"v":0},{"r":7,"c":12,"v":0},{"r":7,"c":13,"v":1},{"r":7,"c":14,"v":0},{"r":7,"c":15,"v":0},{"r":7,"c":16,"v":0},{"r":7,"c":17,"v":0},{"r":7,"c":18,"v":0},{"r":7,"c":19,"v":0},
{"r":7,"c":20,"v":0},{"r":7,"c":21,"v":0},{"r":7,"c":22,"v":0},{"r":7,"c":23,"v":0},{"r":7,"c":24,"v":0},{"r":7,"c":25,"v":0},{"r":7,"c":26,"v":0},{"r":7,"c":27,"v":0},{"r":7,"c":28,"v":0},{"r":7,"c":29,"v":0},
{"r":7,"c":30,"v":0},{"r":7,"c":31,"v":0},{"r":7,"c":32,"v":1},{"r":7,"c":33,"v":0},{"r":7,"c":34,"v":0},{"r":7,"c":35,"v":0},{"r":7,"c":36,"v":0},{"r":7,"c":37,"v":0},{"r":7,"c":38,"v":0},{"r":7,"c":39,"v":0},
{"r":7,"c":40,"v":0},{"r":7,"c":41,"v":0},{"r":7,"c":42,"v":0},{"r":7,"c":43,"v":0},{"r":7,"c":44,"v":0},{"r":7,"c":45,"v":0},{"r":7,"c":46,"v":0},{"r":7,"c":47,"v":0.72},{"r":7,"c":48,"v":0.07},{"r":7,"c":49,"v":0},
{"r":7,"c":50,"v":0},{"r":7,"c":51,"v":0},{"r":7,"c":52,"v":0},{"r":7,"c":53,"v":0},{"r":7,"c":54,"v":0},{"r":7,"c":55,"v":0},{"r":7,"c":56,"v":0},{"r":7,"c":57,"v":0},{"r":7,"c":58,"v":0},{"r":7,"c":59,"v":0},
{"r":7,"c":60,"v":0},{"r":7,"c":61,"v":0},{"r":7,"c":62,"v":0.37},{"r":7,"c":63,"v":0.44},{"r":7,"c":64,"v":0},{"r":7,"c":65,"v":0.13},{"r":7,"c":66,"v":0.66},{"r":7,"c":67,"v":0},{"r":7,"c":68,"v":0},{"r":7,"c":69,"v":0},
{"r":7,"c":70,"v":0},{"r":7,"c":71,"v":0},{"r":7,"c":72,"v":0.69},{"r":7,"c":73,"v":0.2},{"r":7,"c":74,"v":1},{"r":7,"c":75,"v":1},{"r":7,"c":76,"v":1},{"r":7,"c":77,"v":1},{"r":7,"c":78,"v":0.77},{"r":7,"c":79,"v":0},
{"r":7,"c":80,"v":0},{"r":7,"c":81,"v":0},{"r":7,"c":82,"v":0.8},{"r":7,"c":83,"v":0.36},{"r":7,"c":84,"v":1},{"r":7,"c":85,"v":1},{"r":7,"c":86,"v":1},{"r":7,"c":87,"v":1},{"r":7,"c":88,"v":1},{"r":7,"c":89,"v":1},
{"r":7,"c":90,"v":1},{"r":7,"c":91,"v":1},{"r":7,"c":92,"v":1},{"r":7,"c":93,"v":1},{"r":7,"c":94,"v":1},{"r":7,"c":95,"v":1},{"r":7,"c":96,"v":1},{"r":7,"c":97,"v":1},{"r":7,"c":98,"v":1},{"r":7,"c":99,"v":1},
{"r":7,"c":100,"v":1},{"r":7,"c":101,"v":1},{"r":7,"c":102,"v":1},{"r":7,"c":103,"v":1},{"r":7,"c":104,"v":1},{"r":7,"c":105,"v":1},{"r":7,"c":106,"v":1},{"r":7,"c":107,"v":1},{"r":7,"c":108,"v":1},{"r":7,"c":109,"v":1},
{"r":7,"c":110,"v":1},{"r":7,"c":111,"v":1},{"r":7,"c":112,"v":1},{"r":7,"c":113,"v":1},{"r":7,"c":114,"v":1},{"r":7,"c":115,"v":1},{"r":7,"c":116,"v":1},{"r":7,"c":117,"v":1},{"r":7,"c":118,"v":1},{"r":7,"c":119,"v":1},
{"r":7,"c":120,"v":1},{"r":7,"c":121,"v":1},{"r":7,"c":122,"v":1},{"r":7,"c":123,"v":1},{"r":7,"c":124,"v":1},{"r":7,"c":125,"v":1},{"r":7,"c":126,"v":1},{"r":7,"c":127,"v":1},{"r":7,"c":128,"v":1},{"r":7,"c":129,"v":1},
{"r":7,"c":130,"v":1},{"r":7,"c":131,"v":1},{"r":7,"c":132,"v":1},{"r":7,"c":133,"v":1},{"r":7,"c":134,"v":1},{"r":7,"c":135,"v":1},{"r":7,"c":136,"v":1},{"r":7,"c":137,"v":1},{"r":7,"c":138,"v":1},{"r":7,"c":139,"v":1},
{"r":7,"c":140,"v":1},{"r":7,"c":141,"v":1},{"r":7,"c":142,"v":1},{"r":7,"c":143,"v":1},{"r":7,"c":144,"v":1},{"r":7,"c":145,"v":1},{"r":7,"c":146,"v":1},{"r":7,"c":147,"v":1},{"r":7,"c":148,"v":1},{"r":7,"c":149,"v":1},
{"r":7,"c":150,"v":1},{"r":7,"c":151,"v":1},{"r":7,"c":152,"v":1},{"r":7,"c":153,"v":1},{"r":7,"c":154,"v":1},{"r":7,"c":155,"v":1},{"r":7,"c":156,"v":1},{"r":7,"c":157,"v":1},{"r":7,"c":158,"v":1},{"r":7,"c":159,"v":1}
    ]
  },
  "layer": [
    {
      "mark": {"type": "rect", "strokeWidth": 1.5},
      "encoding": {
        "x": {
          "field": "c",
          "type": "ordinal",
          "scale": {"paddingInner": 0, "paddingOuter": 0},
          "axis": {"orient": "bottom", "zindex": 1, "values": [0, 20, 40, 60, 80, 100, 120, 140], "labelPadding": 43}
        },
        "y": {
          "field": "r",
          "type": "ordinal",
          "scale": {"paddingInner": 0, "paddingOuter": 0},
          "axis": {"orient": "left", "zindex": 1, "labelPadding": 30}
        },
        "color": {
          "field": "v",
          "type": "quantitative",
          "scale": {"domain": [0, 1], "range": ["#ffff66", "#008066"], "interpolate": "rgb"},
          "legend": null
        },
        "stroke": {
          "field": "v",
          "type": "quantitative",
          "scale": {"domain": [0, 1], "range": ["#ffff66", "#008066"], "interpolate": "rgb"},
          "legend": null
        }
      }
    },
    {
      "mark": {"type": "rect", "opacity": 0},
      "encoding": {
        "x": {
          "field": "c",
          "type": "ordinal",
          "axis": {"orient": "top", "zindex": 1, "labels": false, "values": [0, 20, 40, 60, 80, 100, 120, 140]}
        },
        "y": {
          "field": "r",
          "type": "ordinal",
          "axis": {"orient": "right", "zindex": 1, "labels": false}
        }
      }
    }
  ],
  "config": {
    "view": {"stroke": null},
    "font": "DejaVu Sans",
    "axis": {
      "title": null,
      "grid": false,
      "domainColor": "black",
      "domainWidth": 3.6,
      "domainCap": "square",
      "tickColor": "black",
      "tickWidth": 1.8,
      "tickSize": -14,
      "labelFont": "DejaVu Sans",
      "labelFontSize": 41,
      "labelColor": "black",
      "labelAngle": 0,
      "labelOverlap": false
    }
  }
}
